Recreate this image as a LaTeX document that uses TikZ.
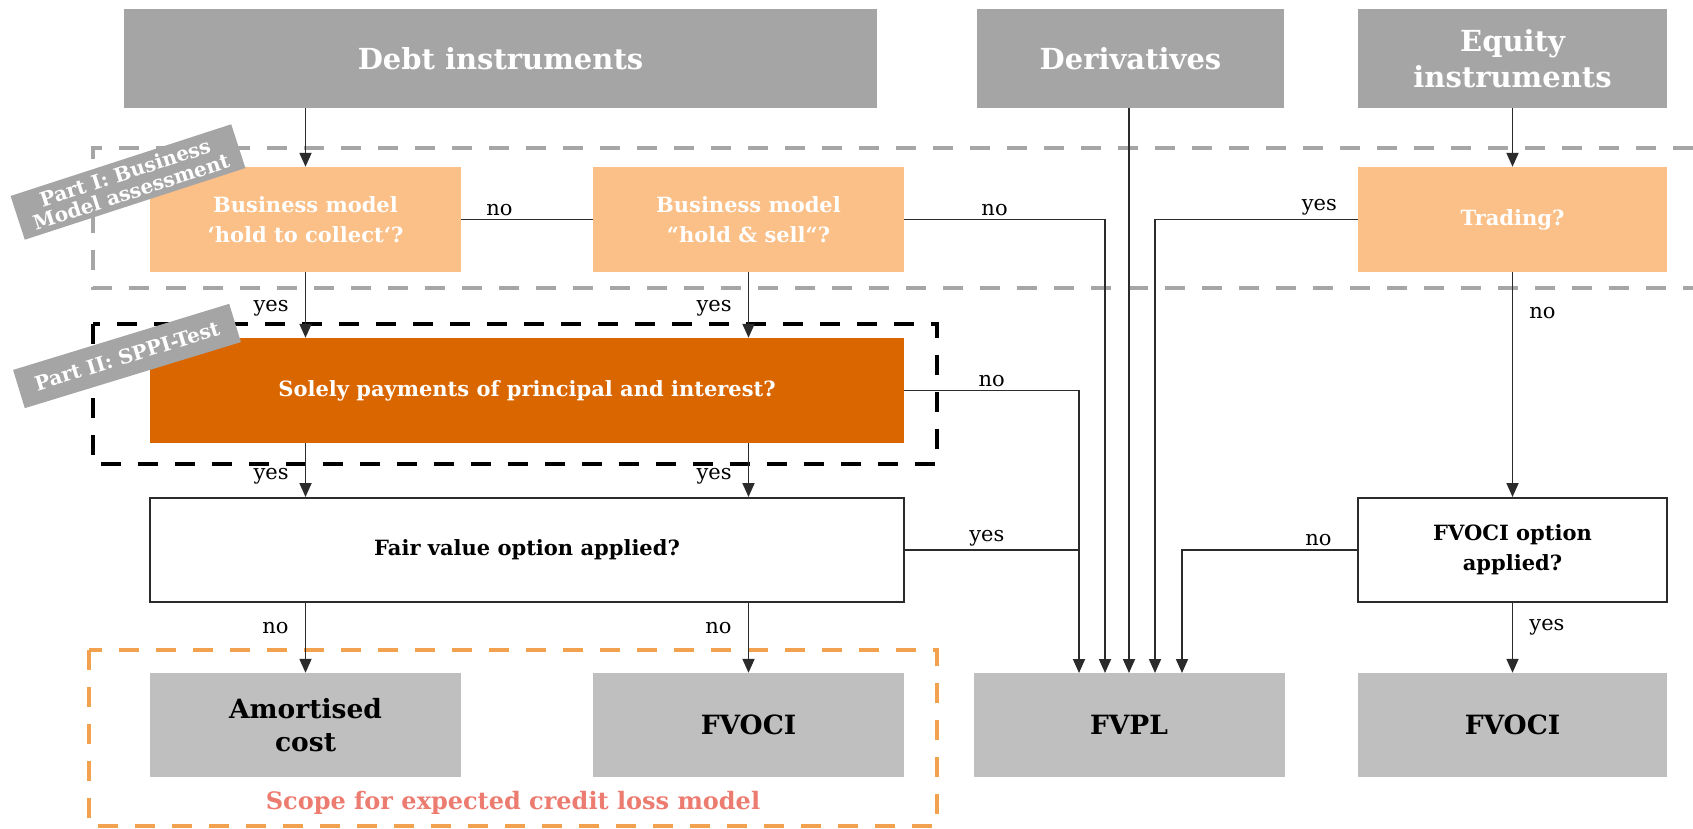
\documentclass[tikz,border=0pt]{standalone}
\usepackage{fontspec}
\setmainfont{DejaVu Serif}
\usetikzlibrary{arrows.meta}
\definecolor{hdrgray}{HTML}{A5A5A5}
\definecolor{resgray}{HTML}{BFBFBF}
\definecolor{lightor}{HTML}{FBBF88}
\definecolor{darkor}{HTML}{DA6600}
\definecolor{scopeor}{HTML}{F2A24F}
\definecolor{scopetxt}{HTML}{EC7B70}
\definecolor{dashgray}{HTML}{A6A6A6}
\definecolor{linec}{HTML}{2B2B2B}
\begin{document}
\begin{tikzpicture}[x=1pt,y=-1pt,
  box/.style={rectangle, minimum width=311pt, minimum height=105pt, inner sep=0pt,
    align=center, font=\bfseries\fontsize{21}{30}\selectfont},
  hdr/.style={box, fill=hdrgray, text=white, minimum height=99pt,
    font=\bfseries\fontsize{29}{36}\selectfont},
  qlight/.style={box, fill=lightor, text=white},
  qwhite/.style={box, fill=white, draw=linec, line width=2pt, text=black},
  result/.style={box, fill=resgray, text=black, minimum height=104pt,
    font=\bfseries\fontsize{26.5}{33}\selectfont},
  partlbl/.style={rectangle, fill=hdrgray, text=white, inner sep=0pt, align=center,
    minimum width=232pt, font=\bfseries\fontsize{20}{20}\selectfont},
  conn/.style={draw=linec, line width=1.8pt},
  arr/.style={conn, -{Triangle[length=14pt,width=12pt]}},
  lbl/.style={font=\fontsize{21}{24}\selectfont, text=black, inner sep=2pt},
  dashframe/.style={line width=4pt, dash pattern=on 20pt off 17pt},
]
\useasboundingbox (0,0) rectangle (1693,829);

% assessment frames
\draw[dashframe, draw=dashgray] (1693,148) -- (93,148) -- (93,288) -- (1693,288);
\draw[dashframe, draw=black] (93,324) rectangle (937,464);
\draw[dashframe, draw=scopeor] (89,650) rectangle (937,826);

% category headers
\node[hdr, minimum width=753pt] (debt) at (500.5,58.5) {Debt instruments};
\node[hdr, minimum width=307pt] (deriv) at (1130.5,58.5) {Derivatives};
\node[hdr, minimum width=309pt] (equity) at (1512.5,58.5) {Equity\\instruments};

% Part I: business model tests
\node[qlight] (htc) at (305.5,219.5) {Business model\\‘hold to collect‘?};
\node[qlight] (hs) at (748.5,219.5) {Business model\\“hold \& sell“?};
\node[qlight, minimum width=309pt] (trading) at (1512.5,219.5) {Trading?};

% Part II: SPPI test
\node[box, fill=darkor, text=white, minimum width=754pt] (sppi) at (527,390.5)
  {Solely payments of principal and interest?};

% options
\node[qwhite, minimum width=754pt, minimum height=104pt] (fvo) at (527,550) {Fair value option applied?};
\node[qwhite, minimum width=309pt, minimum height=104pt] (fvoq) at (1512.5,550) {FVOCI option\\applied?};

% measurement results
\node[result] (amort) at (305.5,725) {Amortised\\cost};
\node[result] (fvoci1) at (748.5,725) {FVOCI};
\node[result] (fvpl) at (1129,725) {FVPL};
\node[result, minimum width=309pt] (fvoci2) at (1512.5,725) {FVOCI};

% entry points on top of FVPL
\coordinate (f1) at (1079,673);
\coordinate (f2) at (1105,673);
\coordinate (f3) at (1129,673);
\coordinate (f4) at (1155,673);
\coordinate (f5) at (1182,673);

% debt instruments flow
\draw[arr] (debt.south -| htc.north) -- (htc.north);
\draw[conn] (htc.east) -- node[lbl, above=1pt, pos=.29] {no} (hs.west);
\draw[arr] (htc.south) -- node[lbl, anchor=east, xshift=-14pt, pos=.55] {yes} (sppi.north -| htc.south);
\draw[arr] (hs.south) -- node[lbl, anchor=east, xshift=-14pt, pos=.55] {yes} (sppi.north -| hs.south);
\draw[arr] (hs.east) -- node[lbl, above=1pt, pos=.45] {no} (hs.east -| f2) -- (f2);
\draw[arr] (sppi.south -| htc.south) -- node[lbl, anchor=east, xshift=-14pt, pos=.62] {yes} (fvo.north -| htc.south);
\draw[arr] (sppi.south -| hs.south) -- node[lbl, anchor=east, xshift=-14pt, pos=.62] {yes} (fvo.north -| hs.south);
\draw[arr] (sppi.east) -- node[lbl, above=1pt, pos=.5] {no} (sppi.east -| f1) -- (f1);
\draw[conn] (fvo.east) -- node[lbl, above=1pt, pos=.47] {yes} (fvo.east -| f1);
\draw[arr] (fvo.south -| amort.north) -- node[lbl, anchor=east, xshift=-14pt, pos=.36] {no} (amort.north);
\draw[arr] (fvo.south -| fvoci1.north) -- node[lbl, anchor=east, xshift=-14pt, pos=.36] {no} (fvoci1.north);

% derivatives
\draw[arr] (deriv.south -| f3) -- (f3);

% equity instruments flow
\draw[arr] (equity.south) -- (trading.north);
\draw[arr] (trading.west) -- node[lbl, above=1pt, pos=.19] {yes} (trading.west -| f4) -- (f4);
\draw[arr] (trading.south) -- node[lbl, anchor=west, xshift=14pt, pos=.18] {no} (fvoq.north);
\draw[arr] (fvoq.west) -- node[lbl, above=1pt, pos=.22] {no} (fvoq.west -| f5) -- (f5);
\draw[arr] (fvoq.south) -- node[lbl, anchor=west, xshift=14pt, pos=.34] {yes} (fvoci2.north);

% frame captions
\node[partlbl, minimum height=46pt, rotate=18] (part1) at (128,182) {Part I: Business\\Model assessment};
\node[partlbl, minimum height=40pt, minimum width=226pt, rotate=17] (part2) at (127,356) {Part II: SPPI-Test};
\node[font=\bfseries\fontsize{24}{28}\selectfont, text=scopetxt] (scope) at (513,803)
  {Scope for expected credit loss model};
\end{tikzpicture}
\end{document}
